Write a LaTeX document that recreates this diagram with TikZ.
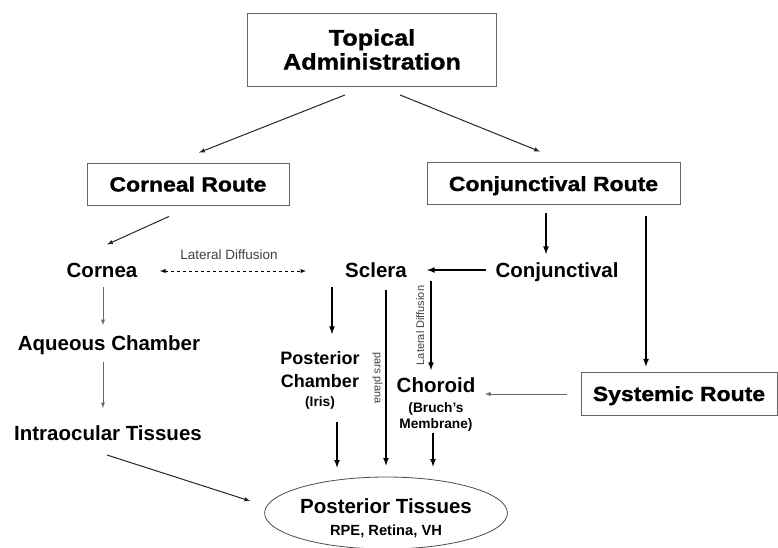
\documentclass[tikz,border=0pt]{standalone}
\usepackage{fontspec}
\setmainfont{Liberation Sans}
\newfontfamily\widefont{Liberation Sans}[FakeStretch=1.12, FakeBold=1.2]
\usetikzlibrary{shapes.geometric}
\tikzset{
	routebox/.style={draw=black!60, line width=0.9pt, inner sep=0pt, text height=15pt, text depth=0pt,
		font=\widefont\bfseries\fontsize{20.5}{24}\selectfont},
	tissue/.style={inner sep=0pt, align=center, font=\bfseries\fontsize{20.5}{24}\selectfont},
	sidelabel/.style={inner sep=0pt, text=black!75, font=\fontsize{11}{13}\selectfont},
	thinarrow/.style={->, line width=1pt, draw=black!85},
	thickarrow/.style={->, line width=1.6pt},
	greyarrow/.style={->, line width=0.9pt, draw=black!60},
}
\begin{document}
\begin{tikzpicture}[>=latex, x=1pt, y=-1pt]
		\useasboundingbox (0,0) rectangle (778,547);
		\node[draw=black!60, line width=0.9pt, inner sep=0pt, minimum width=249pt, minimum height=73pt, align=center,
			font=\widefont\bfseries\fontsize{22.5}{24}\selectfont] (topical) at (372,49.5) {Topical\\Administration};
		\node[routebox, minimum width=202pt, minimum height=42pt] (corneal) at (188,184) {Corneal Route};
		\node[routebox, minimum width=253pt, minimum height=42pt] (conjroute) at (553.5,183.5) {Conjunctival Route};
		\node[routebox, minimum width=196pt, minimum height=43pt] (systemic) at (679,393.5) {Systemic Route};
		\node[tissue, anchor=base] (cornea) at (102,277.5) {Cornea};
		\node[tissue, anchor=base] (sclera) at (376,277.5) {Sclera};
		\node[tissue, anchor=base] (conj) at (557,277.5) {Conjunctival};
		\node[tissue, anchor=base] (aqueous) at (109,350.5) {Aqueous Chamber};
		\node[tissue, anchor=base] (intra) at (108,440) {Intraocular Tissues};
		\node[tissue, anchor=north, font=\bfseries\fontsize{18}{23}\selectfont] (postch) at (320,351)
			{Posterior\\Chamber\\[-4pt]{\fontsize{13.7}{16}\selectfont (Iris)}};
		\node[tissue, anchor=north] (choroid) at (436,377.5)
			{Choroid\\[-4pt]{\fontsize{13.7}{16}\selectfont (Bruch's}\\[-8pt]{\fontsize{13.7}{16}\selectfont Membrane)}};
		\node[tissue, ellipse, draw=black!70, line width=0.8pt, minimum width=238pt, minimum height=72pt,
			text height=48pt] (pt) at (386,513)
			{Posterior Tissues\\[-2pt]{\fontsize{14.7}{17}\selectfont RPE, Retina, VH}};

		\draw[thinarrow] ([shift={(-27,8.5)}]topical.south) -- ([shift={(11,-10)}]corneal.north);
		\draw[thinarrow] ([shift={(28,8.5)}]topical.south) -- ([shift={(-13.5,-10.5)}]conjroute.north);
		\draw[thinarrow] ([shift={(-19,11)}]corneal.south) -- ([shift={(5,-33)}]cornea.base);
		\draw[<->, dashed, line width=0.9pt] ([shift={(58,-6.5)}]cornea.base) -- node[sidelabel, above=11pt, xshift=-4pt,
			font=\fontsize{13.5}{15}\selectfont] (latdiffa) {Lateral Diffusion} ([shift={(-70,-6.5)}]sclera.base);
		\draw[thickarrow] ([shift={(-7.5,8.5)}]conjroute.south) -- ([shift={(-11,-23.5)}]conj.base);
		\draw[thickarrow] ([shift={(92.5,11.5)}]conjroute.south) -- ([shift={(-33,-5)}]systemic.north);
		\draw[thickarrow] ([shift={(-71,-7.5)}]conj.base) -- ([shift={(51,-7.5)}]sclera.base);
		\draw[thickarrow] ([shift={(-44,9.5)}]sclera.base) -- ([shift={(12,-17)}]postch.north);
		\draw[thickarrow] ([shift={(10,12.5)}]sclera.base) -- node[sidelabel, midway, anchor=north, rotate=-90, inner sep=2.5pt]
			(parsplana) {pars plana} ([shift={(0,-11)}]pt.north);
		\draw[thickarrow] ([shift={(55,3.5)}]sclera.base) -- node[sidelabel, midway, anchor=south, rotate=90, inner sep=6pt]
			(latdiffb) {Lateral Diffusion} ([shift={(-5,-7.5)}]choroid.north);
		\draw[greyarrow] ([shift={(-14,0.5)}]systemic.west) -- ([shift={(49,16.5)}]choroid.north);
		\draw[thickarrow] ([shift={(17,71)}]postch.north) -- ([shift={(-49,-9)}]pt.north);
		\draw[thickarrow] ([shift={(-3,55.5)}]choroid.north) -- ([shift={(47,-10)}]pt.north);
		\draw[greyarrow] ([shift={(1,9.5)}]cornea.base) -- ([shift={(-6,-25.5)}]aqueous.base);
		\draw[greyarrow] ([shift={(-6,11.5)}]aqueous.base) -- ([shift={(-5,-32)}]intra.base);
		\draw[thinarrow] ([shift={(-1,15)}]intra.base) -- ([shift={(-14,-12)}]pt.west);
\end{tikzpicture}
\end{document}
